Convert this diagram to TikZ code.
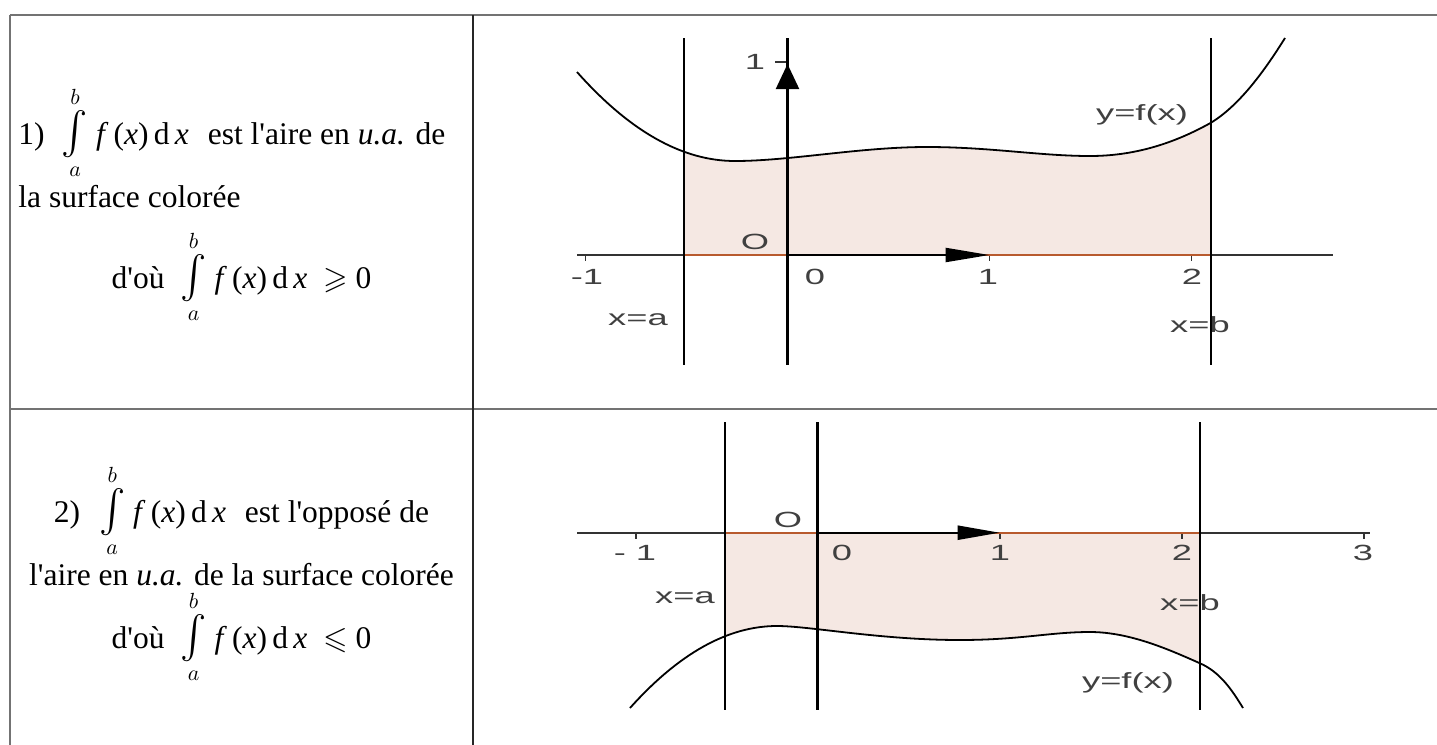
\documentclass[tikz,border=0pt]{standalone}
\usepackage{amsmath}
\usepackage{amssymb}
\usepackage{fontspec}
\setmainfont{Liberation Serif}
\newfontfamily\geofont{Liberation Sans}
\usetikzlibrary{arrows.meta}

\definecolor{paleRose}{HTML}{F5E8E3}
\definecolor{rust}{HTML}{B85A2E}

\newcommand{\integ}{\mathop{\scalebox{1.25}[1.35]{$\int$}}\limits_{a}^{b}}
\newcommand{\fdx}{\textit{f}\,(\textit{x})\,d\,\textit{x}}
\newcommand{\apos}{\textquotesingle}
\newcommand{\geolab}[1]{\scalebox{1.65}[1]{#1}}

\begin{document}
\begin{tikzpicture}[
  x=0.5pt, y=-0.5pt,
  font=\fontsize{15.75}{19}\selectfont,
  tabline/.style={draw=black!55, line width=1pt},
  axis/.style={draw=black!80, line width=0.9pt},
  vline/.style={draw=black, line width=1.4pt},
  fcurve/.style={draw=black, line width=0.9pt},
  regionfill/.style={fill=paleRose},
  regionline/.style={draw=rust, line width=0.9pt},
  vec/.style={draw=black, line width=1.1pt},
  lab/.style={font=\geofont\fontsize{11}{13}\selectfont, text=black!75, inner sep=0pt},
  txt/.style={inner sep=0pt}
]
  \useasboundingbox (0,0) rectangle (1437,745);

  % table
  \draw[tabline] (10,15) -- (1437,15);
  \draw[tabline] (10,409) -- (1437,409);
  \draw[tabline] (10,15) -- (10,745);
  \draw[draw=black!85, line width=1pt] (473,15) -- (473,745);

  % first row text
  \node[txt, anchor=base west] (r1a) at (18,144) {1)\hspace{0.55em}$\integ$\ \fdx\hspace{0.6em}est l\apos aire en \textit{u.a.} de};
  \node[txt, anchor=base west] (r1b) at (18,207) {la surface colorée};
  \node[txt, anchor=base] (r1c) at (241.5,288) {d\apos où\hspace{0.5em}$\integ$\ \fdx\hspace{0.5em}$\geqslant$ 0};

  % second row text
  \node[txt, anchor=base] (r2a) at (241.5,522) {2)\hspace{0.6em}$\integ$\ \fdx\hspace{0.6em}est l\apos opposé de};
  \node[txt, anchor=base] (r2b) at (241.5,585) {l\apos aire en \textit{u.a.} de la surface colorée};
  \node[txt, anchor=base] (r2c) at (241.5,648) {d\apos où\hspace{0.5em}$\integ$\ \fdx\hspace{0.5em}$\leqslant$ 0};

  % graph 1 : f above the axis
  \coordinate (o1) at (787.5,255);
  \begin{scope}
    \clip (684,255) rectangle (1211,30);
    \fill[regionfill] (577,72) .. controls (629.7,131.3) and (682.3,161) .. (735,161)
      .. controls (790,161) and (860,147) .. (927,147)
      .. controls (990,147) and (1040,156) .. (1090,156)
      .. controls (1140,156) and (1180,140) .. (1211,122.7)
      .. controls (1240,105) and (1265,70) .. (1285,38)
      -- (1285,255) -- (577,255) -- cycle;
  \end{scope}
  \draw[axis] (577,255) -- (1333,255);
  \foreach \t in {585.5,989.5,1191.5}
    \draw[axis] (\t,255) -- (\t,261);
  \draw[axis] (775,62) -- (787.5,62);
  \draw[regionline] (684,152) -- (684,255) -- (1211,255) -- (1211,122.7);
  \draw[fcurve] (577,72) .. controls (629.7,131.3) and (682.3,161) .. (735,161)
    .. controls (790,161) and (860,147) .. (927,147)
    .. controls (990,147) and (1040,156) .. (1090,156)
    .. controls (1140,156) and (1180,140) .. (1211,122.7)
    .. controls (1240,105) and (1265,70) .. (1285,38);
  \draw[vline] (684,38) -- (684,365);
  \draw[vline] (787.5,38) -- (787.5,365);
  \draw[vline] (1211,38) -- (1211,365);
  \draw[vec, -{Triangle[length=22pt,width=7pt]}] (o1) -- (989.5,255);
  \draw[vec, -{Triangle[length=12.5pt,width=11.5pt]}] (o1) -- (787.5,64);

  \node[lab] (t1m) at (587,277) {\geolab{-1}};
  \node[lab] (t10) at (815,277) {\geolab{0}};
  \node[lab] (t11) at (988,277) {\geolab{1}};
  \node[lab] (t12) at (1192,277) {\geolab{2}};
  \node[lab] (t1y) at (755,62) {\geolab{1}};
  \node[lab] (o1lab) at (755,242) {\geolab{O}};
  \node[lab] (xa1) at (638,320) {\geolab{x=a}};
  \node[lab] (xb1) at (1200,325) {\geolab{x=b}};
  \node[lab] (f1) at (1142,115) {\geolab{y=f(x)}};

  % graph 2 : f below the axis
  \coordinate (o2) at (817.7,532.7);
  \begin{scope}
    \clip (725,532.7) rectangle (1200,720);
    \fill[regionfill] (630,708) .. controls (679,653.3) and (728,626) .. (777,626)
      .. controls (810,626) and (880,640) .. (960,640)
      .. controls (1020,640) and (1050,632) .. (1090,632)
      .. controls (1130,632) and (1170,650) .. (1200,663.3)
      .. controls (1220,672) and (1232,690) .. (1243,708)
      -- (1243,532.7) -- (630,532.7) -- cycle;
  \end{scope}
  \draw[axis] (577,532.7) -- (1370,532.7);
  \foreach \t in {635.7,999.7,1181.7,1363.7}
    \draw[axis] (\t,532.7) -- (\t,538.7);
  \draw[regionline] (725,635) -- (725,532.7) -- (1200,532.7) -- (1200,663.3);
  \draw[fcurve] (630,708) .. controls (679,653.3) and (728,626) .. (777,626)
    .. controls (810,626) and (880,640) .. (960,640)
    .. controls (1020,640) and (1050,632) .. (1090,632)
    .. controls (1130,632) and (1170,650) .. (1200,663.3)
    .. controls (1220,672) and (1232,690) .. (1243,708);
  \draw[vline] (725,422) -- (725,710);
  \draw[vline] (817.7,422) -- (817.7,710);
  \draw[vline] (1200,422) -- (1200,710);
  \draw[vec, -{Triangle[length=21pt,width=7pt]}] (o2) -- (999.7,532.7);

  \node[lab] (t2m) at (635,553) {\geolab{- 1}};
  \node[lab] (t20) at (842,553) {\geolab{0}};
  \node[lab] (t21) at (1000,553) {\geolab{1}};
  \node[lab] (t22) at (1182,553) {\geolab{2}};
  \node[lab] (t23) at (1363,553) {\geolab{3}};
  \node[lab] (o2lab) at (788,520) {\geolab{O}};
  \node[lab] (xa2) at (685,598) {\geolab{x=a}};
  \node[lab] (xb2) at (1190,603) {\geolab{x=b}};
  \node[lab] (f2) at (1128,683) {\geolab{y=f(x)}};
\end{tikzpicture}
\end{document}
